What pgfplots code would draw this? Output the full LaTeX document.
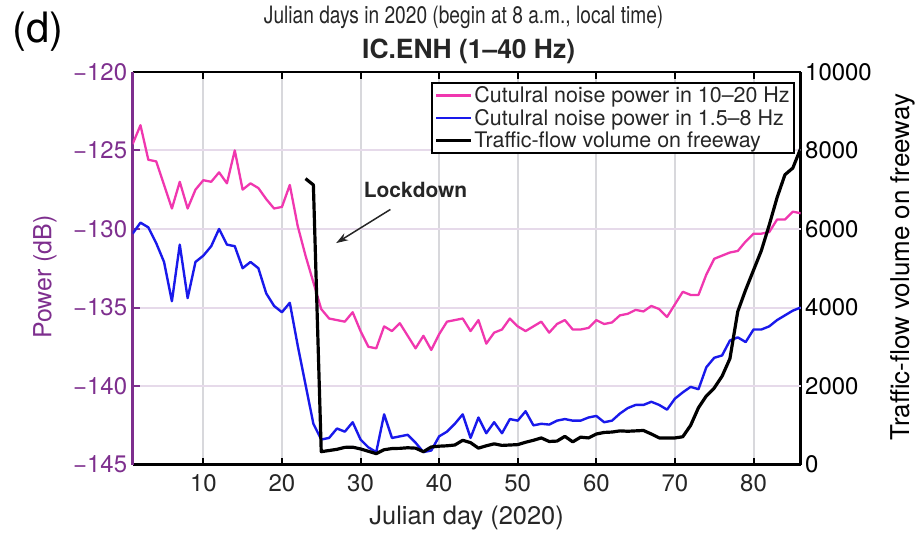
\documentclass[border=0pt]{standalone}
\usepackage{fontspec}
\setmainfont{TeX Gyre Heros}
\usepackage{graphicx}
\usepackage{pgfplots}
\usepackage{pgfplotstable}
\pgfplotsset{compat=1.18}
\usetikzlibrary{arrows.meta}

\definecolor{pinkC}{RGB}{240,55,175}
\definecolor{blueC}{RGB}{25,25,235}
\definecolor{purpleC}{RGB}{126,47,142}
\definecolor{txtC}{RGB}{38,38,38}
\definecolor{vgrid}{RGB}{216,216,220}
\definecolor{hgrid}{RGB}{230,218,234}

\pgfplotstableread{
day pink blue
1 -124.6 -130.3
2 -123.4 -129.6
3 -125.6 -129.9
4 -125.7 -130.9
5 -127.2 -132.1
6 -128.7 -134.6
7 -127.0 -131.0
8 -128.7 -134.4
9 -127.5 -132.1
10 -126.9 -131.7
11 -127.0 -131.1
12 -126.4 -130.0
13 -127.1 -131.0
14 -125.0 -131.1
15 -127.5 -132.5
16 -127.1 -132.1
17 -127.4 -132.5
18 -128.1 -134.1
19 -128.7 -134.9
20 -128.6 -135.3
21 -127.2 -134.7
22 -129.8 -137.4
23 -131.7 -139.9
24 -133.4 -142.4
25 -135.1 -143.4
26 -135.7 -143.3
27 -135.8 -142.7
28 -135.9 -142.9
29 -135.3 -142.3
30 -136.5 -143.4
31 -137.5 -143.9
32 -137.6 -144.2
33 -136.2 -141.8
34 -136.5 -143.3
35 -136.0 -143.2
36 -136.8 -143.1
37 -137.6 -143.6
38 -136.8 -144.2
39 -137.7 -144.1
40 -136.7 -143.2
41 -135.9 -142.9
42 -135.8 -142.4
43 -135.7 -141.8
44 -136.5 -143.3
45 -135.8 -142.0
46 -137.3 -143.0
47 -136.6 -142.3
48 -136.4 -143.0
49 -135.7 -142.1
50 -136.2 -142.2
51 -136.5 -141.6
52 -136.2 -142.5
53 -135.9 -142.4
54 -136.6 -142.45
55 -136.05 -142.2
56 -135.8 -142.1
57 -136.4 -142.2
58 -136.4 -142.2
59 -136.3 -142.0
60 -135.8 -141.9
61 -136.05 -142.3
62 -135.95 -142.2
63 -135.5 -141.75
64 -135.4 -141.4
65 -135.15 -141.2
66 -135.25 -141.2
67 -134.9 -141.0
68 -135.1 -141.2
69 -135.6 -141.5
70 -134.8 -140.8
71 -134.0 -140.4
72 -134.2 -140.05
73 -134.2 -140.2
74 -132.9 -138.8
75 -131.9 -138.2
76 -131.7 -138.05
77 -131.5 -137.1
78 -131.4 -136.9
79 -130.8 -137.2
80 -130.3 -136.4
81 -130.3 -136.4
82 -130.2 -136.2
83 -129.4 -135.8
84 -129.4 -135.5
85 -128.9 -135.2
86 -129.0 -135.0
}\noise

\pgfplotstableread{
day traffic
23 7280
24 7120
25 330
26 360
27 390
28 440
29 445
30 400
31 340
32 280
33 380
34 410
35 415
36 430
37 420
38 330
39 450
40 470
41 480
42 500
43 620
44 560
45 420
46 480
47 530
48 490
49 500
50 510
51 570
52 620
53 680
54 590
55 600
56 720
57 580
58 700
59 680
60 780
61 820
62 830
63 860
64 850
65 860
66 870
67 780
68 680
69 680
70 680
71 710
72 1000
73 1450
74 1750
75 1950
76 2250
77 2700
78 3900
79 4450
80 4950
81 5450
82 6100
83 6800
84 7380
85 7550
86 8050
}\traffic

\begin{document}
\begin{tikzpicture}
\begin{axis}[
  at={(0pt,0pt)}, anchor=south west,
  scale only axis, width=670pt, height=394pt,
  xmin=1, xmax=86, ymin=0, ymax=10000,
  axis y line*=right, axis x line=none,
  tick align=inside,
  major tick length=7pt,
  ytick={0,2000,4000,6000,8000,10000},
  scaled y ticks=false,
  /pgf/number format/assume math mode=true,
  /pgf/number format/1000 sep={},
  tick label style={font=\fontsize{24}{28}\selectfont},
  yticklabel style={black, xshift=1pt},
  y axis line style={black, line width=2.5pt},
  ytick style={black, line width=2pt},
  ylabel={Traffic-flow volume on freeway},
  every axis y label/.style={at={(axis description cs:1,0.5)}, anchor=center, xshift=102pt, yshift=1pt, rotate=90, font=\fontsize{26}{28}\selectfont, black},
]
\end{axis}

\begin{axis}[
  name=main,
  at={(0pt,0pt)}, anchor=south west,
  scale only axis, width=670pt, height=394pt,
  xmin=1, xmax=86, ymin=-145, ymax=-120,
  axis x line*=box, axis y line*=left,
  tick align=inside,
  major tick length=7pt,
  xtick={10,20,...,80},
  ytick={-145,-140,-135,-130,-125,-120},
  yticklabels={−145,−140,−135,−130,−125,−120},
  /pgf/number format/assume math mode=true,
  tick label style={font=\fontsize{24}{28}\selectfont},
  xticklabel style={txtC, yshift=-6pt},
  yticklabel style={purpleC, xshift=-2pt},
  x axis line style={black, line width=2.5pt},
  y axis line style={purpleC, line width=2.5pt},
  xtick style={black, line width=2pt},
  ytick style={purpleC, line width=2pt},
  grid=major,
  x grid style={vgrid, line width=2pt},
  y grid style={hgrid, line width=2pt},
  xlabel={Julian day (2020)},
  ylabel={Power (dB)},
  every axis x label/.style={at={(axis description cs:0.5,0)}, anchor=center, yshift=-54pt, font=\fontsize{25.5}{28}\selectfont, txtC},
  every axis y label/.style={at={(axis description cs:0,0.5)}, anchor=center, xshift=-88pt, yshift=-9pt, rotate=90, font=\fontsize{25}{28}\selectfont, purpleC},
  legend cell align=left,
  legend style={at={(axis description cs:1,1)}, anchor=north east, xshift=-6pt, yshift=-10pt,
    draw=black, line width=2pt, fill=white, inner sep=2pt,
    font=\fontsize{21.5}{24}\selectfont, text=txtC, row sep=1pt},
  legend image code/.code={\draw[#1] (0pt,0pt) -- (35pt,0pt);},
]
\addplot[pinkC, line width=2.3pt, line join=round] table[x=day, y=pink] {\noise};
\addlegendentry{Cutulral noise power in 10–20 Hz}
\addplot[blueC, line width=2.4pt, line join=round] table[x=day, y=blue] {\noise};
\addlegendentry{Cutulral noise power in 1.5–8 Hz}
\addplot[black, line width=3.2pt, line join=round] table[x=day, y expr=\thisrow{traffic}/400-145] {\traffic};
\addlegendentry{Traffic-flow volume on freeway}
\draw[-{Stealth[length=12pt,width=8pt]}, line width=1.5pt, black!85] (axis cs:33.8,-128.76) -- (axis cs:26.9,-130.9);
\node[font=\bfseries\fontsize{21}{24}\selectfont, txtC] at (axis cs:37.0,-127.55) {Lockdown};
\end{axis}

\node[txtC] at (332pt,449pt) {\scalebox{0.8}[1]{\fontsize{24}{28}\selectfont Julian days in 2020 (begin at 8 a.m., local time)}};
\node[txtC, font=\bfseries\fontsize{26.5}{30}\selectfont] at (337pt,414pt) {IC.ENH (1–40 Hz)};
\node[black, font=\fontsize{42}{46}\selectfont] at (-95pt,434pt) {(d)};
\path (-133pt,-69pt) rectangle (785pt,466pt);
\end{tikzpicture}
\end{document}
